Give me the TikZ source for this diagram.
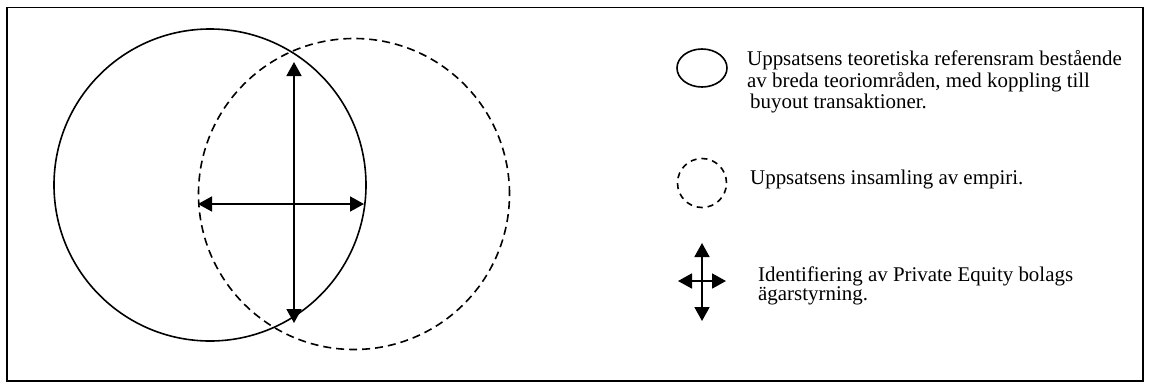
\documentclass[tikz,border=0pt]{standalone}
\usepackage{fontspec}
\setmainfont{Liberation Serif}
\usetikzlibrary{arrows.meta,positioning,shapes.geometric}

\begin{document}
\begin{tikzpicture}[x=1bp,y=-1bp,>={Triangle[length=14bp,width=15bp]},
  ring/.style={draw,line width=1.6bp,inner sep=0pt},
  dashring/.style={ring,dash pattern=on 8bp off 5bp},
  arr/.style={<->,line width=1.8bp},
  txt/.style={anchor=north west,inner sep=0pt,align=left}]
\useasboundingbox (0,0) rectangle (1151,389);
\draw[line width=1.6bp] (7,7.5) rectangle (1143,381);
% big circles
\node[circle,ring,minimum size=312bp] (teori) at (210,185) {};
\node[circle,dashring,minimum size=311bp] (empiri) at (354,194) {};
\coordinate (vtop) at (294,62);
\coordinate (vbot) at (294,323);
\coordinate (hleft) at (198,204);
\coordinate (hright) at (364,204);
\draw[arr] (vtop) -- (vbot);
\draw[arr] (hleft) -- (hright);
% legend
\node[ellipse,ring,minimum width=50bp,minimum height=38bp] (legteori) at (702,68) {};
\node[circle,dashring,dash pattern=on 6bp off 5bp,minimum size=49bp] (legempiri) at (702,183) {};
\coordinate (lvtop) at (702,243);
\coordinate (lvbot) at (702,321);
\coordinate (lhleft) at (678,281);
\coordinate (lhright) at (726,281);
\draw[arr] (lvtop) -- (lvbot);
\draw[arr] (lhleft) -- (lhright);
\node[txt,font=\fontsize{21}{21.5}\selectfont] (teoritext) at (747,50.5) {Uppsatsens teoretiska referensram bestående\\av breda teoriområden, med koppling till\\\hspace{3bp}buyout transaktioner.};
\node[txt,font=\fontsize{21}{21}\selectfont] (empiritext) at (750,169.5) {Uppsatsens insamling av empiri.};
\node[txt,font=\fontsize{21}{16.5}\selectfont] (styrtext) at (758,266.5) {Identifiering av Private Equity bolags\\ägarstyrning.};
\end{tikzpicture}
\end{document}
